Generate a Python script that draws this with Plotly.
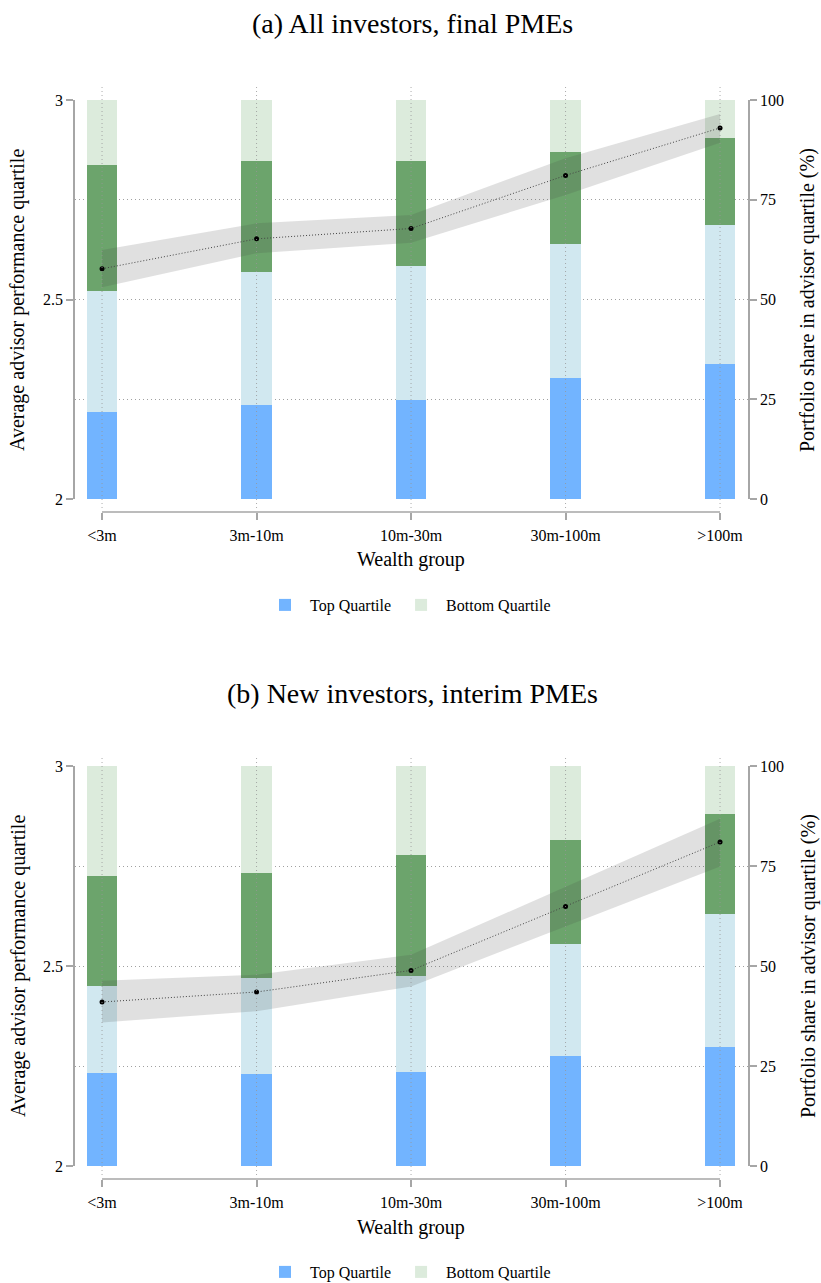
import plotly.graph_objects as go

# ---------------- data ----------------
categories = ["<3m", "3m-10m", "10m-30m", "30m-100m", ">100m"]
positions = [1, 2, 3, 4, 5]

# Panel (a): All investors, final PMEs  (portfolio share %, by advisor quartile)
a_q1_top = [21.9, 23.6, 24.8, 30.4, 33.8]
a_q2 = [30.2, 33.2, 33.7, 33.6, 34.8]
a_q3 = [31.7, 28.0, 26.1, 22.9, 22.0]
a_q4_bottom = [16.2, 15.2, 15.4, 13.1, 9.4]
a_mean = [2.577, 2.652, 2.678, 2.811, 2.930]
a_hi = [2.624, 2.691, 2.712, 2.854, 2.965]
a_lo = [2.531, 2.616, 2.642, 2.762, 2.893]

# Panel (b): New investors, interim PMEs
b_q1_top = [23.3, 23.1, 23.5, 27.5, 29.7]
b_q2 = [21.6, 23.9, 23.9, 28.1, 33.3]
b_q3 = [27.7, 26.2, 30.4, 25.9, 25.0]
b_q4_bottom = [27.4, 26.8, 22.2, 18.5, 12.0]
b_mean = [2.410, 2.435, 2.489, 2.649, 2.810]
b_hi = [2.463, 2.478, 2.528, 2.698, 2.868]
b_lo = [2.359, 2.387, 2.449, 2.599, 2.749]

left_ticks = [2, 2.5, 3]
left_ticktext = ["2", "2.5", "3"]
right_ticks = [0, 25, 50, 75, 100]

# ---------------- style ----------------
W, H = 821, 1283
FONT = "Liberation Serif"
C_Q1 = "#72b4ff"
C_Q2 = "#d1e8f0"
C_Q3 = "#6ca46c"
C_Q4 = "#dcebdc"
AX = "#a6a6a6"
DOT = "1px,3px"


def py(p):
    return 1 - p / H


def px(p):
    return p / W


fig = go.Figure()

panels = [
    dict(q=[a_q1_top, a_q2, a_q3, a_q4_bottom], mean=a_mean, hi=a_hi, lo=a_lo,
         xa="x", ybar="y", yline="y2", legend="legend"),
    dict(q=[b_q1_top, b_q2, b_q3, b_q4_bottom], mean=b_mean, hi=b_hi, lo=b_lo,
         xa="x2", ybar="y3", yline="y4", legend="legend2"),
]
names = ["Top Quartile", "2nd Quartile", "3rd Quartile", "Bottom Quartile"]
colors = [C_Q1, C_Q2, C_Q3, C_Q4]
inleg = [True, False, False, True]

for p in panels:
    for vals, nm, col, il in zip(p["q"], names, colors, inleg):
        fig.add_trace(go.Bar(
            x=positions, y=vals, name=nm, width=0.2,
            marker=dict(color=col, line=dict(width=0)),
            xaxis=p["xa"], yaxis=p["ybar"], legend=p["legend"],
            showlegend=il, hoverinfo="skip"))
    # confidence band
    fig.add_trace(go.Scatter(
        x=positions + positions[::-1], y=p["hi"] + p["lo"][::-1],
        fill="toself", fillcolor="rgba(70,70,70,0.17)", line=dict(width=0),
        mode="lines", xaxis=p["xa"], yaxis=p["yline"], showlegend=False,
        hoverinfo="skip"))
    # mean line
    fig.add_trace(go.Scatter(
        x=positions, y=p["mean"], mode="lines+markers",
        line=dict(color="#444444", width=1, dash="1px,2px"),
        marker=dict(color="black", size=5),
        xaxis=p["xa"], yaxis=p["yline"], showlegend=False, hoverinfo="skip"))

xdom = [px(75), px(748)]
xrange = [0.825, 5.181]
dom_a = [py(499), py(100)]
dom_b = [py(1166), py(766)]

tickfont = dict(family=FONT, size=16, color="black")
xcommon = dict(domain=xdom, range=xrange, anchor="free", showline=False,
               showgrid=False, zeroline=False, ticks="outside", ticklen=7,
               tickwidth=1.5, tickcolor=AX, tickvals=positions,
               ticktext=categories, tickfont=tickfont, automargin=False,
               ticklabelstandoff=2)
right_common = dict(range=[0, 100], side="right", tickvals=right_ticks,
                    showline=True, linecolor=AX, linewidth=1.5, ticks="outside",
                    ticklen=7, tickwidth=1.5, tickcolor=AX, showgrid=True,
                    gridcolor="#a0a0a0", griddash=DOT, gridwidth=1,
                    zeroline=False, tickfont=tickfont, automargin=False)
left_common = dict(range=[2, 3], side="left", tickvals=left_ticks,
                   ticktext=left_ticktext, showline=True, linecolor=AX,
                   linewidth=1.5, ticks="outside", ticklen=7, tickwidth=1.5,
                   tickcolor=AX, showgrid=False, zeroline=False,
                   tickfont=tickfont, automargin=False)

legend_common = dict(orientation="h", xanchor="center", yanchor="middle",
                     font=dict(family=FONT, size=16), bgcolor="rgba(0,0,0,0)",
                     traceorder="normal", itemwidth=40)

fig.update_layout(
    template="none",
    width=W, height=H, margin=dict(l=0, r=0, t=0, b=0, autoexpand=False),
    paper_bgcolor="white", plot_bgcolor="rgba(0,0,0,0)",
    barmode="stack", bargap=0,
    font=dict(family=FONT, size=16, color="black"),
    xaxis=dict(**xcommon, position=py(512)),
    xaxis2=dict(**xcommon, position=py(1179)),
    yaxis=dict(**right_common, domain=dom_a, anchor="x"),
    yaxis2=dict(**left_common, domain=dom_a, anchor="x", overlaying="y"),
    yaxis3=dict(**right_common, domain=dom_b, anchor="x2"),
    yaxis4=dict(**left_common, domain=dom_b, anchor="x2", overlaying="y3"),
    legend=dict(**legend_common, x=px(408), y=py(605)),
    legend2=dict(**legend_common, x=px(408), y=py(1272)),
    showlegend=True,
)

shapes = []
for xa, y0, y1, yl in [("x", 508, 87, 512), ("x2", 1175, 755, 1179)]:
    for pos in positions:
        shapes.append(dict(type="line", xref=xa, yref="paper", x0=pos, x1=pos,
                           y0=py(y0), y1=py(y1), layer="above",
                           line=dict(color="rgba(150,150,150,0.8)", width=1, dash=DOT)))
    shapes.append(dict(type="line", xref=xa, yref="paper", x0=positions[0],
                       x1=positions[-1], y0=py(yl), y1=py(yl), layer="above",
                       line=dict(color=AX, width=1.5)))
fig.update_layout(shapes=shapes)

annotations = []
for title, ty, midy, wy in [("(a) All investors, final PMEs", 23, 300, 560),
                            ("(b) New investors, interim PMEs", 693, 966, 1227)]:
    annotations.append(dict(text=title, x=px(412), y=py(ty), xref="paper", yref="paper",
                            showarrow=False, xanchor="center", yanchor="middle",
                            font=dict(family=FONT, size=28)))
    annotations.append(dict(text="Average advisor performance quartile", x=px(18),
                            y=py(midy), xref="paper", yref="paper", showarrow=False,
                            textangle=-90, xanchor="center", yanchor="middle",
                            font=dict(family=FONT, size=20)))
    annotations.append(dict(text="Portfolio share in advisor quartile (%)", x=px(808),
                            y=py(midy), xref="paper", yref="paper", showarrow=False,
                            textangle=-90, xanchor="center", yanchor="middle",
                            font=dict(family=FONT, size=20)))
    annotations.append(dict(text="Wealth group", x=px(411), y=py(wy), xref="paper",
                            yref="paper", showarrow=False, xanchor="center",
                            yanchor="middle", font=dict(family=FONT, size=20)))
fig.update_layout(annotations=annotations)

fig.write_html("out.html", config={"displayModeBar": False},
               post_script="document.body.style.margin='0px';")
